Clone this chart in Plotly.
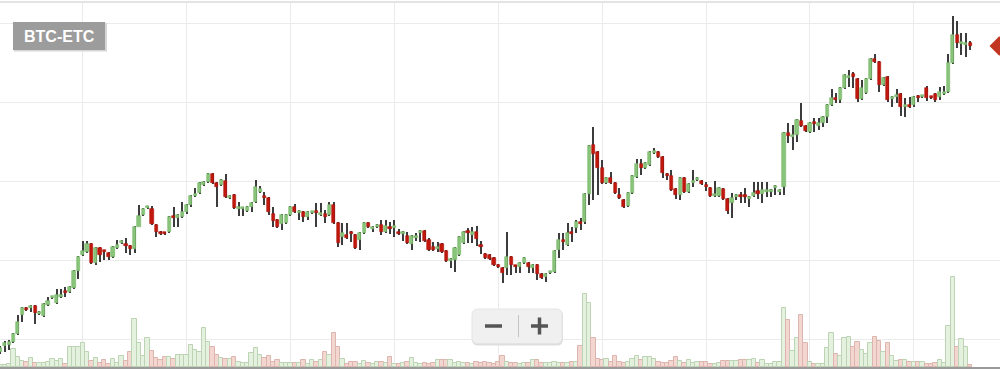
import pandas as pd
import plotly.graph_objects as go

pair_label = "BTC-ETC"

# hourly candles (arbitrary price units)
opens = [18,24,25,28,36,55,62,62,64,56,54,65,72,67,73,78,78,82,99,115,118,126,107,122,119,117,113,122,127,126,124,121,143,155,162,161,145,138,
137,138,153,152,153,158,165,174,177,185,188,196,187,185,189,172,175,161,161,159,163,168,178,174,172,156,150,146,147,155,163,157,158,153,157,158,155,156,
155,165,147,133,135,138,135,130,137,147,141,143,145,138,142,142,137,136,134,126,132,137,139,130,123,121,126,119,109,110,115,127,138,135,138,124,116,
115,112,105,102,102,113,104,103,107,107,102,105,96,93,97,98,120,130,125,138,142,148,148,176,225,218,202,187,192,187,175,170,164,177,193,206,202,
205,217,218,213,196,194,181,175,192,178,187,190,189,185,182,174,174,181,171,167,173,174,174,171,174,179,176,178,178,182,178,183,237,233,235,249,244,
238,247,244,247,253,265,272,270,282,292,296,291,271,277,291,311,308,285,293,271,273,276,263,265,265,273,273,282,273,276,273,276,278,307,335,326,325,327]

closes = [22,27,28,36,48,62,60,64,57,58,66,69,73,75,75,77,83,99,113,119,126,107,122,115,118,113,123,125,129,124,121,143,154,161,163,146,138,136,
136,153,152,155,158,165,174,176,187,188,196,187,183,190,173,174,162,162,162,163,167,183,181,172,158,149,143,155,155,163,158,159,153,158,158,157,157,153,
165,147,127,137,132,136,122,137,147,143,143,145,138,144,141,144,136,138,127,134,133,139,129,120,120,123,118,109,111,122,133,138,137,138,131,123,112,
111,105,103,97,113,105,103,107,112,103,105,96,92,96,98,119,130,128,137,136,148,146,176,224,216,202,187,192,187,177,172,163,177,194,206,202,207,
218,219,213,197,194,180,175,192,178,186,189,192,186,183,174,176,182,171,159,172,175,173,173,173,177,176,180,180,180,184,180,237,234,235,250,244,239,
247,246,247,253,265,272,270,282,295,294,293,271,282,291,311,308,285,292,270,273,274,263,265,263,273,272,274,272,272,270,278,278,307,335,327,328,327,324]

highs = [24,29,30,37,55,63,63,65,65,59,67,73,74,81,81,83,84,100,114,129,129,127,123,123,120,118,124,130,130,132,125,144,165,162,164,164,146,139,
138,154,163,156,168,166,175,182,188,189,197,197,188,191,196,175,176,168,163,164,168,190,184,178,173,163,151,156,156,164,166,160,159,159,159,167,167,160,
168,168,148,147,147,139,136,138,148,148,144,146,150,150,148,150,141,139,138,135,137,140,140,132,128,128,127,120,112,123,134,139,142,143,144,129,117,
116,113,106,103,138,114,105,108,113,108,106,106,97,97,99,120,137,137,147,143,150,152,177,225,243,219,210,193,198,188,182,171,178,195,211,211,208,
219,222,219,214,197,200,182,193,193,187,200,193,190,188,183,189,183,182,172,177,176,178,182,174,188,188,188,188,181,185,181,238,247,245,251,267,245,
248,252,252,254,266,281,277,283,296,300,298,292,290,292,312,316,309,293,294,274,281,277,272,273,274,275,275,284,274,277,283,284,316,354,349,337,337,329]

lows = [16,18,20,27,35,48,59,58,46,55,53,64,71,66,72,73,77,81,91,114,117,106,105,108,110,110,112,121,126,117,115,117,150,154,161,145,133,135,
135,137,143,143,152,156,163,173,176,184,187,186,163,184,172,171,161,154,154,158,158,167,177,165,155,143,142,140,146,154,157,150,148,150,156,143,154,147,
154,146,123,125,131,128,121,120,136,142,138,142,135,137,136,133,135,129,126,120,129,128,128,119,119,118,117,108,102,98,114,126,127,127,124,116,111,
110,104,102,87,95,95,97,97,106,97,97,90,91,88,96,97,112,120,124,128,137,140,146,165,170,175,186,186,186,176,171,162,163,176,192,195,201,
204,216,212,192,190,179,171,170,177,177,183,189,185,179,173,173,173,170,156,152,170,167,167,163,173,171,167,173,173,175,175,175,227,220,228,243,238,
237,238,240,243,247,264,267,267,281,283,282,268,270,276,290,307,278,284,268,263,267,254,253,262,263,268,272,269,271,268,270,275,277,306,322,315,313,320]

volumes = [2,2,3,18,10,6,5,9,4,4,4,5,8,6,8,3,20,20,20,24,15,6,9,4,7,3,8,4,11,6,15,48,24,11,29,16,9,7,
10,10,8,12,12,12,22,17,15,39,25,20,12,9,8,8,10,5,4,4,14,19,12,9,11,5,7,4,4,4,4,4,7,3,7,5,7,15,
12,34,20,8,3,5,5,3,6,4,3,5,5,4,10,3,3,4,5,9,4,3,4,3,4,7,7,7,7,4,5,4,4,3,5,4,5,
4,3,5,11,5,4,4,3,4,4,7,7,4,4,4,5,4,4,4,5,5,21,73,64,29,8,7,8,5,11,5,4,5,8,11,7,10,
10,8,5,4,4,6,10,6,4,7,4,5,5,5,3,3,4,6,6,6,6,7,7,7,8,4,7,3,3,5,5,59,47,16,29,52,24,
5,3,3,3,19,34,13,11,29,30,20,25,17,13,24,30,26,15,24,11,6,7,7,5,5,5,5,3,3,4,7,4,41,90,20,28,20,2]

N = len(closes)
start = pd.Timestamp("2017-10-01 05:00")
times = pd.date_range(start, periods=N, freq="h")
r0 = start - pd.Timedelta(minutes=6)
r1 = r0 + pd.Timedelta(hours=231)

up = [c >= o for o, c in zip(opens, closes)]
HOUR = 3600000

vol_fill = ["#e4f1df" if u else "#f4d6d1" for u in up]
vol_line = ["#bcd3b4" if u else "#dcb5af" for u in up]
body_fill = ["#88c57a" if u else "#c3170d" for u in up]
body_line = ["#74b565" if u else "#a8120a" for u in up]
body_base = [min(o, c) for o, c in zip(opens, closes)]
body_h = [max(abs(c - o), 2) for o, c in zip(opens, closes)]
wick_h = [h - l for h, l in zip(highs, lows)]

fig = go.Figure()
fig.add_trace(go.Bar(x=times, y=volumes, width=HOUR, yaxis="y",
                     marker=dict(color=vol_fill, line=dict(color=vol_line, width=1)),
                     hoverinfo="skip", showlegend=False))
fig.add_trace(go.Bar(x=times, y=wick_h, base=lows, width=0.24 * HOUR, yaxis="y2",
                     marker=dict(color="#3c3c3c", line=dict(width=0)),
                     hoverinfo="skip", showlegend=False))
fig.add_trace(go.Bar(x=times, y=body_h, base=body_base, width=0.72 * HOUR, yaxis="y2",
                     marker=dict(color=body_fill, line=dict(color=body_line, width=0.6)),
                     hoverinfo="skip", showlegend=False))
fig.add_trace(go.Scatter(x=[r1 - pd.Timedelta(minutes=10)], y=[closes[-1]], yaxis="y2", mode="markers",
                         marker=dict(symbol="diamond", size=15, color="#c23520"),
                         hoverinfo="skip", showlegend=False))

def py(p):
    return (367 - p) / 365.0

def rrect(x0, x1, ytop, ybot, r):
    X0, X1 = x0 / 1000, x1 / 1000
    Yt, Yb = py(ytop), py(ybot)
    dx, dy = r / 1000, r / 365
    return (f"M {X0+dx},{Yb} L {X1-dx},{Yb} Q {X1},{Yb} {X1},{Yb+dy} L {X1},{Yt-dy} "
            f"Q {X1},{Yt} {X1-dx},{Yt} L {X0+dx},{Yt} Q {X0},{Yt} {X0},{Yt-dy} "
            f"L {X0},{Yb+dy} Q {X0},{Yb} {X0+dx},{Yb} Z")

shapes = [
    dict(type="line", xref="paper", yref="paper", x0=0, x1=1, y0=1.0, y1=1.0,
         line=dict(color="#e4e4e4", width=2)),
    # label box + shadow
    dict(type="rect", xref="paper", yref="paper", x0=0.014, x1=0.107, y0=py(51.5), y1=py(23),
         fillcolor="#d6d6d6", line=dict(width=0), layer="above"),
    dict(type="rect", xref="paper", yref="paper", x0=0.013, x1=0.105, y0=py(50), y1=py(22),
         fillcolor="#9c9c9c", line=dict(width=0), layer="above"),
    # zoom button
    dict(type="path", xref="paper", yref="paper", path=rrect(472, 563, 310, 345.5, 6),
         fillcolor="#dedede", line=dict(width=0), layer="above"),
    dict(type="path", xref="paper", yref="paper", path=rrect(472, 562, 309, 343.5, 6),
         fillcolor="#f0f0f0", line=dict(color="#e4e4e4", width=1), layer="above"),
    dict(type="line", xref="paper", yref="paper", x0=0.5185, x1=0.5185, y0=py(337), y1=py(315),
         line=dict(color="#c4c4c4", width=1), layer="above"),
    dict(type="line", xref="paper", yref="paper", x0=0.485, x1=0.502, y0=py(326), y1=py(326),
         line=dict(color="#555555", width=3.5), layer="above"),
    dict(type="line", xref="paper", yref="paper", x0=0.531, x1=0.548, y0=py(326), y1=py(326),
         line=dict(color="#555555", width=3.5), layer="above"),
    dict(type="line", xref="paper", yref="paper", x0=0.5395, x1=0.5395, y0=py(334.5), y1=py(317.5),
         line=dict(color="#555555", width=3.5), layer="above"),
]

fig.update_layout(
    width=1000, height=369,
    margin=dict(l=0, r=0, t=2, b=2),
    paper_bgcolor="white", plot_bgcolor="white",
    barmode="overlay", bargap=0,
    showlegend=False,
    font=dict(family="Liberation Sans, Arial, sans-serif"),
    xaxis=dict(type="date", range=[r0, r1], showgrid=True, gridcolor="#ebebeb", gridwidth=1,
               tick0="2017-10-02 00:00", dtick=86400000, showticklabels=False, ticks="",
               showline=True, linecolor="#9a9a9a", linewidth=2, zeroline=False),
    yaxis=dict(range=[0, 365], showgrid=False, showticklabels=False, zeroline=False, ticks=""),
    yaxis2=dict(range=[3, 368], overlaying="y", side="right", tick0=31, dtick=79,
                showgrid=True, gridcolor="#ebebeb", gridwidth=1, showticklabels=False,
                zeroline=False, ticks=""),
    shapes=shapes,
    annotations=[dict(xref="paper", yref="paper", x=0.0595, y=py(36.5), text="<b>" + pair_label + "</b>",
                      showarrow=False, xanchor="center", yanchor="middle",
                      font=dict(color="white", size=16, family="Liberation Sans, Arial, sans-serif"))],
)

fig.write_html("out.html", config={"displayModeBar": False},
               post_script="document.body.style.margin='0';document.body.style.overflow='hidden';")
